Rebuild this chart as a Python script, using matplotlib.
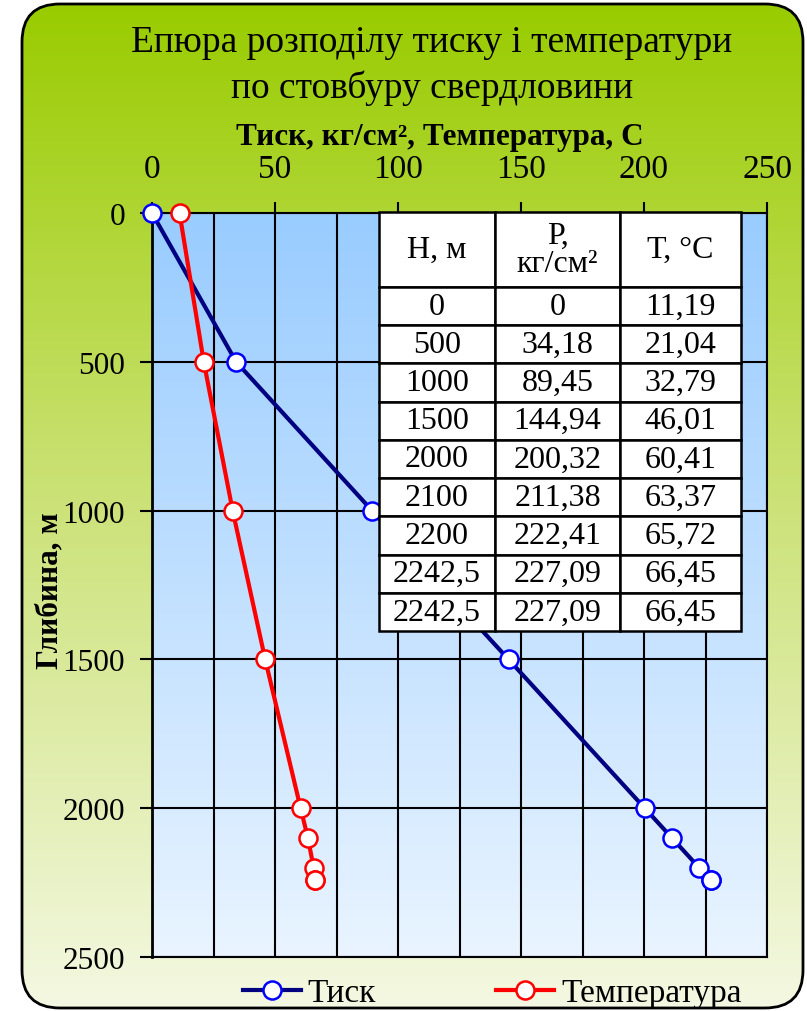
import numpy as np
import matplotlib
matplotlib.use("Agg")
import matplotlib.pyplot as plt
from matplotlib.patches import FancyBboxPatch
from matplotlib.lines import Line2D

plt.rcParams['font.family'] = ['Liberation Serif', 'DejaVu Serif']

# Well data: depth, pressure, temperature
depth_m = [0, 500, 1000, 1500, 2000, 2100, 2200, 2242.5, 2242.5]
pressure = [0, 34.18, 89.45, 144.94, 200.32, 211.38, 222.41, 227.09, 227.09]
temperature = [11.19, 21.04, 32.79, 46.01, 60.41, 63.37, 65.72, 66.45, 66.45]

col_labels = ["Н, м", "Р,\nкг/см²", "Т, °С"]
title_text = "Епюра розподілу тиску і температури\nпо стовбуру свердловини"
xlabel_text = "Тиск, кг/см², Температура, С"
ylabel_text = "Глибина, м"
series_names = ["Тиск", "Температура"]

W, H = 807, 1012
fig = plt.figure(figsize=(W / 100, H / 100), dpi=100)
fig.patch.set_facecolor("white")

# ---- rounded gradient background ----
bg = fig.add_axes([0, 0, 1, 1], zorder=-10)
bg.set_xlim(0, W)
bg.set_ylim(H, 0)
bg.axis("off")
top_c = np.array([153, 204, 0]) / 255
mid_c = np.array([200, 224, 110]) / 255
bot_c = np.array([244, 248, 226]) / 255
t = np.linspace(0, 1, 256)[:, None]
grad = np.where(t < 0.45,
                top_c + (mid_c - top_c) * (t / 0.45),
                mid_c + (bot_c - mid_c) * ((t - 0.45) / 0.55))
grad = grad[:, None, :].repeat(2, axis=1)
frame = FancyBboxPatch((22, 5), 781, 1004, boxstyle="round,pad=0,rounding_size=38",
                       facecolor="none", edgecolor="black", lw=2, zorder=2)
bg.add_patch(frame)
im = bg.imshow(grad, extent=[22, 803, 1009, 5], aspect="auto", zorder=1)
im.set_clip_path(frame)

# ---- main axes ----
ax = fig.add_axes([152 / W, 1 - 958 / H, 615 / W, 744 / H])
ax.set_facecolor("none")
pa_top = np.array([153, 204, 255]) / 255
pa_bot = np.array([233, 244, 255]) / 255
pg = pa_top + (pa_bot - pa_top) * t
pg = pg[:, None, :].repeat(2, axis=1)
ax.imshow(pg, extent=[0, 250, 2500, 0], aspect="auto", zorder=0)
ax.set_xlim(0, 250)
ax.set_ylim(2500, 0)

ax.xaxis.tick_top()
ax.set_xticks(np.arange(0, 251, 50))
ax.set_xticks(np.arange(25, 250, 50), minor=True)
ax.set_yticks(np.arange(0, 2501, 500))
ax.grid(which="both", axis="x", color="black", lw=1.5, zorder=1)
ax.grid(which="major", axis="y", color="black", lw=1.5, zorder=1)
ax.set_axisbelow(False)
ax.tick_params(axis="x", which="major", direction="out", length=8, width=1.5,
               labelsize=24, pad=13)
ax.tick_params(axis="x", which="minor", length=0)
ax.tick_params(axis="y", direction="out", length=9, width=1.5, labelsize=22.5, pad=10.5)
for s in ax.spines.values():
    s.set_color("black")
    s.set_linewidth(1.5)
ax.spines["left"].set_linewidth(2)

# axis titles
fig.text(440 / W, 1 - 137 / H, xlabel_text, ha="center", va="center",
         fontsize=22.5, fontweight="bold")
fig.text(50 / W, 1 - 591 / H, ylabel_text, ha="center", va="center",
         fontsize=22.5, fontweight="bold", rotation=90)

ax.plot(pressure, depth_m, color="#000080", lw=3, marker="o", ms=13,
        mfc="white", mec="#0000FF", mew=1.8, zorder=4, clip_on=False)
ax.plot(temperature, depth_m, color="#FF0000", lw=3, marker="o", ms=13,
        mfc="white", mec="#FF0000", mew=1.8, zorder=4, clip_on=False)

# ---- data table ----
def fmt(v):
    return f"{v:g}".replace(".", ",")

cells = [[fmt(h), fmt(p), fmt(tt)] for h, p, tt in zip(depth_m, pressure, temperature)]
x0 = (379 - 152) / 615
x1 = (741 - 152) / 615
y_top = (958 - 213) / 744
y_bot = (958 - 632) / 744
tab = ax.table(cellText=cells, colLabels=col_labels, cellLoc="center",
               bbox=[x0, y_bot, x1 - x0, y_top - y_bot],
               colWidths=[116, 125, 121], zorder=6)
tab.auto_set_font_size(False)
tab.set_fontsize(23)
total_h = y_top - y_bot
head_h = total_h * 75 / 419
row_h = (total_h - head_h) / len(cells)
for (r, c), cell in tab.get_celld().items():
    cell.set_facecolor("white")
    cell.set_edgecolor("black")
    cell.set_linewidth(1.8)
    cell.set_height(head_h if r == 0 else row_h)
    cell.get_text().set_fontsize(23)
    if r == 0:
        cell.get_text().set_linespacing(1.0)

# ---- title ----
fig.text(432 / W, 1 - 66 / H, title_text, ha="center", va="center",
         fontsize=27, linespacing=1.38)

# ---- legend ----
handles = [
    Line2D([], [], color="#000080", lw=3, marker="o", ms=13, mfc="white",
           mec="#0000FF", mew=1.8),
    Line2D([], [], color="#FF0000", lw=3, marker="o", ms=13, mfc="white",
           mec="#FF0000", mew=1.8),
]
fig.legend(handles, series_names, loc="center", bbox_to_anchor=(492 / W, 1 - 994 / H),
           ncol=2, frameon=False, fontsize=24, handlelength=1.75, handletextpad=0.2,
           columnspacing=3.6, borderpad=0)

fig.savefig("out.png", dpi=100)
